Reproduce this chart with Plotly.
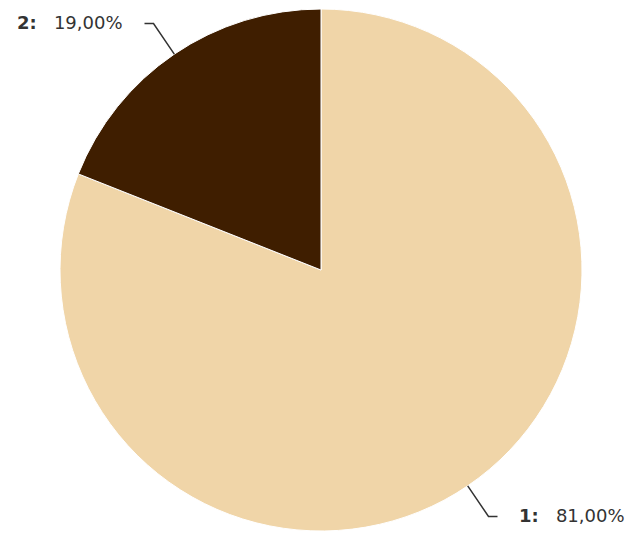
import math
import plotly.graph_objects as go

labels = ["1", "2"]
values = [81.0, 19.0]
colors = ["#F0D5A8", "#3F1E00"]

W, H = 632, 540
cx, cy, r = 321, 270, 261

fig = go.Figure(go.Pie(
    labels=labels, values=values, sort=False, direction="clockwise", rotation=0,
    marker=dict(colors=colors, line=dict(color="#FFFFFF", width=1)),
    textinfo="none", hoverinfo="label+percent", showlegend=False,
    domain=dict(x=[(cx - r) / W, (cx + r) / W], y=[1 - (cy + r) / H, 1 - (cy - r) / H]),
))

def px(x, y):
    return x / W, 1 - y / H

total = sum(values)
start = 0.0
shapes, annotations = [], []
for lab, val in zip(labels, values):
    frac = val / total
    mid = (start + frac / 2) * 2 * math.pi
    start += frac
    dx, dy = math.sin(mid), -math.cos(mid)
    x0, y0 = cx + r * dx, cy + r * dy
    x1, y1 = cx + (r + 37) * dx, cy + (r + 37) * dy
    side = 1 if dx >= 0 else -1
    x2 = x1 + side * 9
    p0, p1, p2 = px(x0, y0), px(x1, y1), px(x2, y1)
    shapes.append(dict(type="path", xref="paper", yref="paper",
                       path=f"M {p0[0]},{p0[1]} L {p1[0]},{p1[1]} L {p2[0]},{p2[1]}",
                       line=dict(color="#333333", width=1.5)))
    tx = x2 + side * 19
    pt = px(tx, y1 - 1)
    txt = f"<b>{lab}:</b>\u00a0\u00a0\u00a0{val:.2f}%".replace(".", ",")
    annotations.append(dict(x=pt[0], y=pt[1], xref="paper", yref="paper",
                            text=txt, showarrow=False,
                            xanchor="left" if side > 0 else "right", yanchor="middle",
                            font=dict(family="DejaVu Sans", size=18, color="#333333")))

fig.update_layout(width=W, height=H, margin=dict(l=0, r=0, t=0, b=0),
                  paper_bgcolor="white", plot_bgcolor="white",
                  shapes=shapes, annotations=annotations)
fig.write_html("out.html", post_script="document.body.style.margin='0';",
               config={"displayModeBar": False})
